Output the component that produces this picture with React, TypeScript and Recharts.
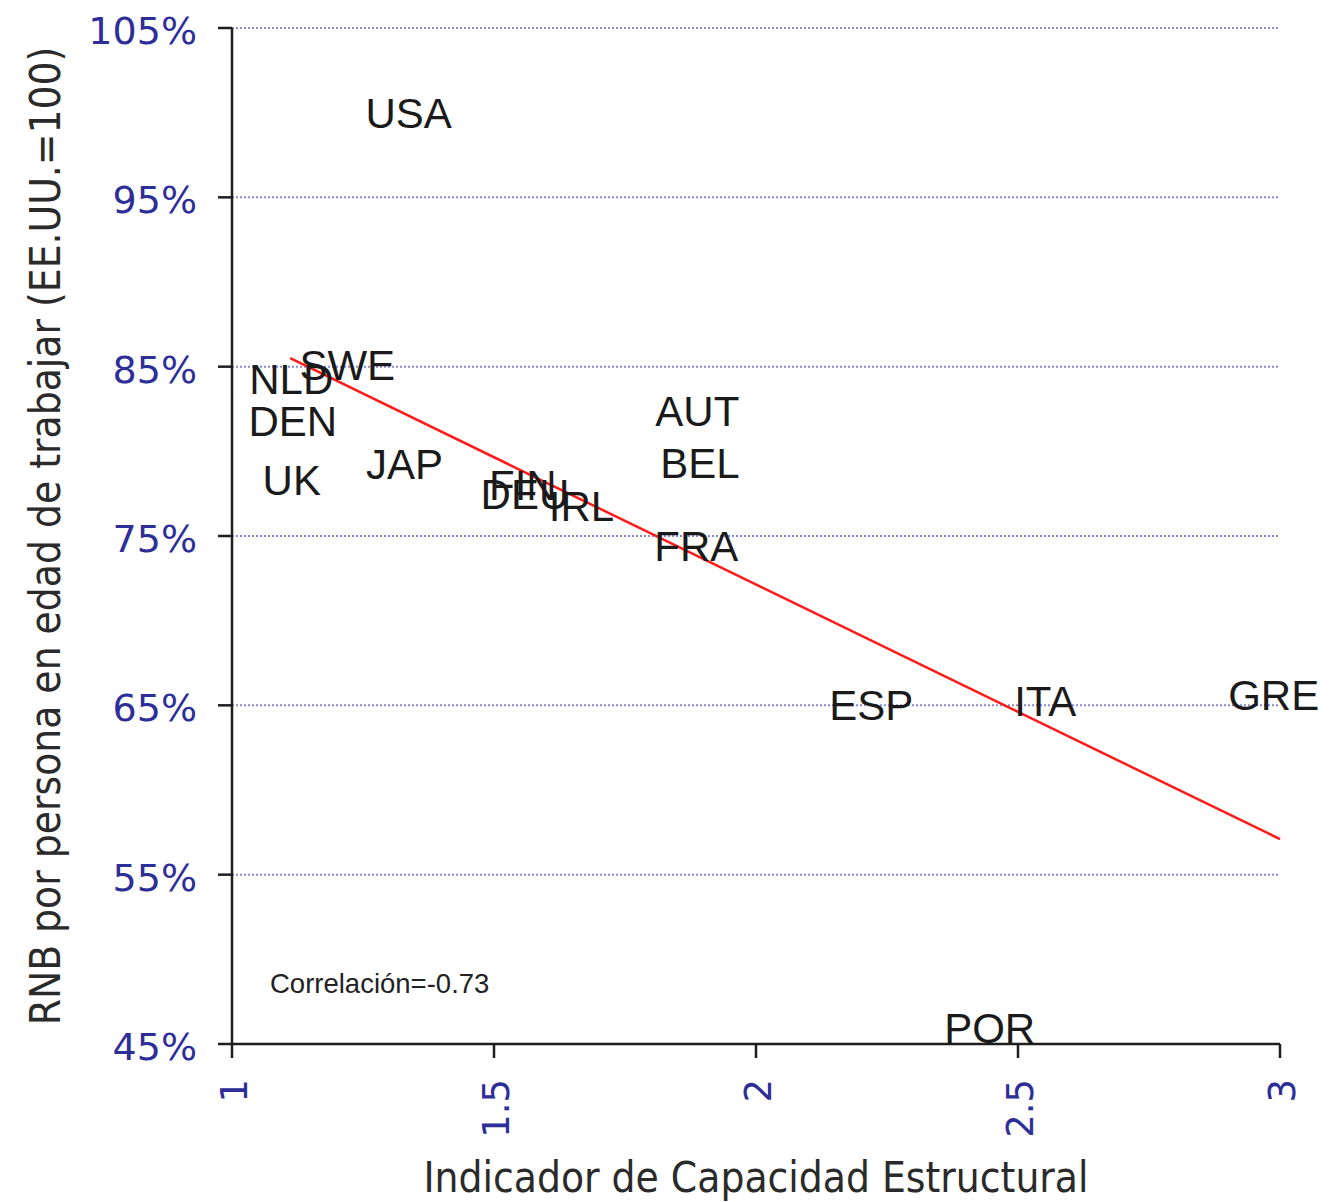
import React from 'react';
import { ScatterChart, Scatter, XAxis, YAxis, CartesianGrid } from 'recharts';

const countries = ['USA', 'SWE', 'NLD', 'DEN', 'UK', 'JAP', 'FIN', 'DEU', 'IRL', 'AUT', 'BEL', 'FRA', 'ESP', 'ITA', 'GRE', 'POR'];
const capacity = [1.337, 1.22, 1.113, 1.116, 1.114, 1.329, 1.555, 1.559, 1.667, 1.888, 1.893, 1.886, 2.22, 2.552, 2.988, 2.446];
const income = [100.0, 85.1, 84.3, 81.8, 78.3, 79.25, 78.0, 77.5, 76.75, 82.4, 79.3, 74.4, 65.0, 65.25, 65.6, 45.95];

const trendX = [1.111, 3];
const trendY = [85.5, 57.1];

const xTicks = [1, 1.5, 2, 2.5, 3];
const yTicks = [45, 55, 65, 75, 85, 95, 105];

const yTitle = 'RNB por persona en edad de trabajar (EE.UU.=100)';
const xTitle = 'Indicador de Capacidad Estructural';
const corrText = 'Correlación=-0.73';

const points = countries.map((name, i) => ({ name, x: capacity[i], y: income[i] }));
const trend = trendX.map((x, i) => ({ x, y: trendY[i] }));

const NAVY = '#2e2e98';
const AXIS = '#1e1e1e';

const CountryLabel = (props: any) => {
  const { cx, cy, payload } = props;
  if (cx == null || cy == null) return null;
  return (
    <text x={cx} y={cy + 15} textAnchor="middle" fontFamily="'Liberation Sans', Arial, sans-serif" fontSize={42} fill="#1a1a1a">
      {payload.name}
    </text>
  );
};

const XTick = (props: any) => {
  const { x, y, payload } = props;
  return (
    <text
      transform={`translate(${x + 15}, ${y + 19}) rotate(-90)`}
      textAnchor="end"
      fontFamily="'DejaVu Sans', Verdana, sans-serif"
      fontSize={37}
      fill={NAVY}
    >
      {String(payload.value)}
    </text>
  );
};

const YTick = (props: any) => {
  const { x, y, payload } = props;
  return (
    <text x={x - 19} y={y + 16} textAnchor="end" fontFamily="'DejaVu Sans', Verdana, sans-serif" fontSize={38} fill={NAVY}>
      {`${payload.value}%`}
    </text>
  );
};

const YTitle = (props: any) => {
  const { viewBox } = props;
  const cx = viewBox.x + 52;
  const cy = viewBox.y + viewBox.height / 2;
  return (
    <g>
      <text
        transform={`translate(${cx}, ${cy}) rotate(-90)`}
        textAnchor="middle"
        fontFamily="'DejaVu Sans Condensed', 'DejaVu Sans', sans-serif"
        fontSize={42}
        fill="#2a2a2a"
      >
        {yTitle}
      </text>
      <text x={viewBox.x + viewBox.width + 38} y={viewBox.y + 965} fontFamily="'Liberation Sans', Arial, sans-serif" fontSize={27.5} fill="#222">
        {corrText}
      </text>
    </g>
  );
};

const XTitle = (props: any) => {
  const { viewBox } = props;
  const cx = viewBox.x + viewBox.width / 2;
  const by = viewBox.y + 148;
  return (
    <text x={cx} y={by} textAnchor="middle" fontFamily="'DejaVu Sans Condensed', 'DejaVu Sans', sans-serif" fontSize={42} fill="#2a2a2a">
      {xTitle}
    </text>
  );
};

export default function App() {
  return (
    <div style={{ width: 1321, height: 1194, background: '#fff' }}>
      <ScatterChart width={1321} height={1194} margin={{ top: 20, right: 49, bottom: 0, left: 0 }}>
        <CartesianGrid vertical={false} stroke="#8a8ad8" strokeDasharray="2 2" strokeWidth={2} />
        <XAxis
          type="number"
          dataKey="x"
          domain={[1, 3]}
          ticks={xTicks}
          height={158}
          tickSize={14}
          tick={<XTick />}
          axisLine={{ stroke: AXIS, strokeWidth: 2.5 }}
          tickLine={{ stroke: AXIS, strokeWidth: 2.5 }}
          label={<XTitle />}
        />
        <YAxis
          type="number"
          dataKey="y"
          domain={[45, 105]}
          ticks={yTicks}
          width={224}
          tickSize={14}
          tick={<YTick />}
          axisLine={{ stroke: AXIS, strokeWidth: 2.5 }}
          tickLine={{ stroke: AXIS, strokeWidth: 2.5 }}
          label={<YTitle />}
        />
        <Scatter data={trend} line={{ stroke: '#ff1a1a', strokeWidth: 2.5 }} shape={() => null} isAnimationActive={false} />
        <Scatter data={points} shape={<CountryLabel />} isAnimationActive={false} />
      </ScatterChart>
    </div>
  );
}
